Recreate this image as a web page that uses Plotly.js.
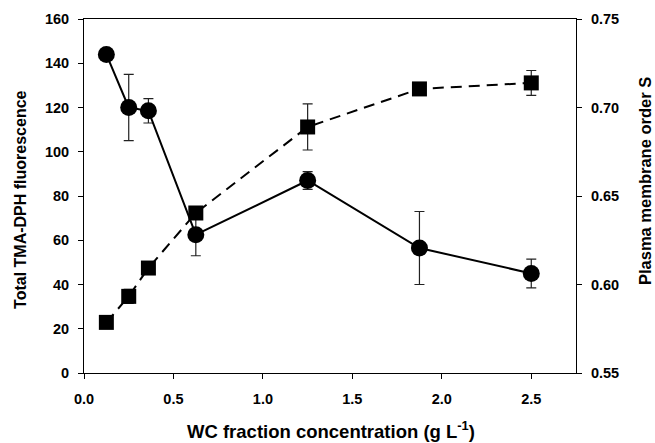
<!DOCTYPE html>
<html>
<head>
<meta charset="utf-8">
<script src="https://cdn.plot.ly/plotly-3.0.1.min.js"></script>
<style>html,body{margin:0;padding:0;background:#fff;}#chart{width:655px;height:443px;}</style>
</head>
<body>
<div id="chart"></div>
<script>
var concentration = [0.125, 0.25, 0.36, 0.625, 1.25, 1.875, 2.5];
var fluorescence = [144, 120, 118.5, 62.5, 87, 56.5, 45];
var fluorescenceErr = [0, 15, 5.5, 9.5, 4, 16.5, 6.5];
var orderS = [0.5786, 0.5933, 0.6093, 0.6404, 0.689, 0.7105, 0.7139];
var orderSErr = [0, 0.004, 0, 0, 0.013, 0.002, 0.007];
var xTickVals = [0, 0.5, 1, 1.5, 2, 2.5];
var xTickText = ['0.0', '0.5', '1.0', '1.5', '2.0', '2.5'];
var y2TickVals = [0.55, 0.6, 0.65, 0.7, 0.75];
var y2TickText = ['0.55', '0.60', '0.65', '0.70', '0.75'];
var xTitle = 'WC fraction concentration (g L<sup>-1</sup>)';
var yTitle = 'Total TMA-DPH fluorescence';
var y2Title = 'Plasma membrane order S';

var fam = 'Liberation Sans, Arial, sans-serif';
var tickFont = {family: fam, size: 14.5, color: '#000', weight: 'bold'};

var traces = [
  {
    x: concentration, y: fluorescence, type: 'scatter', mode: 'lines+markers',
    line: {color: '#000', width: 2},
    marker: {symbol: 'circle', size: 17, color: '#000'},
    error_y: {type: 'data', array: fluorescenceErr, visible: true, color: '#222', thickness: 1.2, width: 5},
    yaxis: 'y', cliponaxis: false
  },
  {
    x: concentration, y: orderS, type: 'scatter', mode: 'lines+markers',
    line: {color: '#000', width: 2, dash: '11px,7px'},
    marker: {symbol: 'square', size: 15, color: '#000'},
    error_y: {type: 'data', array: orderSErr, visible: true, color: '#222', thickness: 1.2, width: 5},
    yaxis: 'y2', cliponaxis: false
  }
];

var layout = {
  width: 655, height: 443,
  margin: {l: 84, r: 79, t: 19, b: 70},
  showlegend: false,
  paper_bgcolor: '#fff', plot_bgcolor: '#fff',
  font: {family: fam, size: 13, color: '#000'},
  xaxis: {
    range: [0, 2.75], tickvals: xTickVals, ticktext: xTickText,
    ticks: 'outside', ticklen: 5, tickwidth: 1, tickcolor: '#000',
    showline: true, linecolor: '#000', linewidth: 1, mirror: true,
    showgrid: false, zeroline: false, ticklabelstandoff: 8,
    tickfont: tickFont
  },
  yaxis: {
    range: [0, 160], dtick: 20,
    ticks: 'outside', ticklen: 5, tickwidth: 1, tickcolor: '#000',
    showline: true, linecolor: '#000', linewidth: 1, mirror: true,
    showgrid: false, zeroline: false, ticklabelstandoff: 6,
    tickfont: tickFont
  },
  yaxis2: {
    overlaying: 'y', side: 'right',
    range: [0.55, 0.75], tickvals: y2TickVals, ticktext: y2TickText,
    ticks: 'outside', ticklen: 5, tickwidth: 1, tickcolor: '#000',
    showline: true, linecolor: '#000', linewidth: 1,
    showgrid: false, zeroline: false, ticklabelstandoff: 6,
    tickfont: tickFont
  },
  annotations: [
    {text: xTitle, xref: 'paper', yref: 'paper', x: 0.502, y: -0.161, xanchor: 'center', yanchor: 'middle',
      showarrow: false, font: {family: fam, size: 18.5, color: '#000', weight: 'bold'}},
    {text: yTitle, xref: 'paper', yref: 'paper', x: -0.128, y: 0.489, xanchor: 'center', yanchor: 'middle',
      textangle: -90, showarrow: false, font: {family: fam, size: 16, color: '#000', weight: 'bold'}},
    {text: y2Title, xref: 'paper', yref: 'paper', x: 1.140, y: 0.542, xanchor: 'center', yanchor: 'middle',
      textangle: -90, showarrow: false, font: {family: fam, size: 16.5, color: '#000', weight: 'bold'}}
  ]
};

Plotly.newPlot('chart', traces, layout, {displayModeBar: false, staticPlot: true});
</script>
</body>
</html>
